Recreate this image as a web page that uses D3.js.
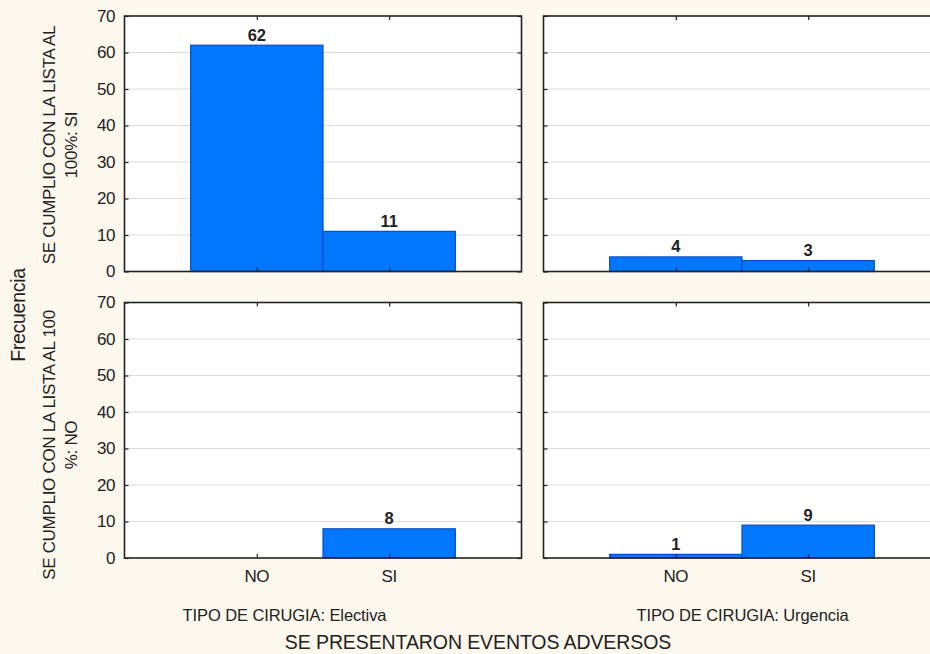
<!DOCTYPE html>
<html>
<head>
<meta charset="utf-8">
<script src="https://cdn.jsdelivr.net/npm/d3@7"></script>
<style>
  body { margin: 0; background: #fdf8ee; }
  svg { display: block; font-family: "Liberation Sans", Arial, sans-serif; }
</style>
</head>
<body>
<div id="chart"></div>
<script>
// Frecuencias por tipo de cirugia y cumplimiento de la lista
const categories = ["NO", "SI"];
const cirugias = ["Electiva", "Urgencia"];
const filas = [
  ["SE CUMPLIO CON LA LISTA AL", "100%: SI"],
  ["SE CUMPLIO CON LA LISTA AL 100", "%: NO"]
];
const yTicks = [0, 10, 20, 30, 40, 50, 60, 70];
// valores[fila][cirugia] = [NO, SI]
const valoresSi = [[62, 11], [4, 3]];
const valoresNo = [[0, 8], [1, 9]];
const valores = [valoresSi, valoresNo];

const W = 930, H = 654;
const svg = d3.select("#chart").append("svg")
  .attr("width", W).attr("height", H);

svg.append("rect").attr("width", W).attr("height", H).attr("fill", "#fdf8ee");

const panelW = 397, panelH = 255.5;
const colX = [124.5, 543.5];
const rowY = [16, 302.5];
const rowLabelY = [145, 445];

const x = d3.scalePoint().domain(categories).range([0, panelW]).padding(1);
const barW = x.step();
const y = d3.scaleLinear().domain([0, 70]).range([panelH, 0]);

filas.forEach((fila, r) => {
  cirugias.forEach((c, ci) => {
    const g = svg.append("g").attr("transform", `translate(${colX[ci]},${rowY[r]})`);

    g.append("rect")
      .attr("width", panelW).attr("height", panelH)
      .attr("fill", "#fff");

    // grid
    g.selectAll(".grid").data(yTicks.slice(1, -1)).join("line")
      .attr("x1", 0).attr("x2", panelW)
      .attr("y1", d => y(d)).attr("y2", d => y(d))
      .attr("stroke", "#dcdcdc").attr("stroke-width", 1.2);

    const data = categories.map((k, i) => ({ k, v: valores[r][ci][i] }));

    g.selectAll(".bar").data(data.filter(d => d.v > 0)).join("rect")
      .attr("x", d => x(d.k) - barW / 2)
      .attr("y", d => y(d.v))
      .attr("width", barW)
      .attr("height", d => panelH - y(d.v))
      .attr("fill", "#0077fc")
      .attr("stroke", "#0a4dc2").attr("stroke-width", 1.2);

    g.selectAll(".lab").data(data.filter(d => d.v > 0)).join("text")
      .attr("x", d => x(d.k))
      .attr("y", d => y(d.v) - 4.5)
      .attr("text-anchor", "middle")
      .attr("font-size", 16.5).attr("font-weight", "bold")
      .attr("fill", "#222")
      .text(d => d.v);

    // axes with inner ticks
    const tickLen = 4;
    g.append("g").call(d3.axisLeft(y).tickValues(yTicks).tickSize(-tickLen).tickFormat(""))
      .call(a => a.select(".domain").remove());
    g.append("g").attr("transform", `translate(${panelW},0)`)
      .call(d3.axisRight(y).tickValues(yTicks).tickSize(-tickLen).tickFormat(""))
      .call(a => a.select(".domain").remove());
    g.append("g").attr("transform", `translate(0,${panelH})`)
      .call(d3.axisBottom(x).tickSize(-tickLen).tickFormat(""))
      .call(a => a.select(".domain").remove());
    g.append("g")
      .call(d3.axisTop(x).tickSize(-tickLen).tickFormat(""))
      .call(a => a.select(".domain").remove());
    g.selectAll(".tick line").attr("stroke", "#222").attr("stroke-width", 1.2);

    g.append("rect")
      .attr("width", panelW).attr("height", panelH)
      .attr("fill", "none").attr("stroke", "#222").attr("stroke-width", 1.6);

    if (ci === 0) {
      g.selectAll(".ylab").data(yTicks).join("text")
        .attr("x", -9.5).attr("y", d => y(d)).attr("dy", "0.34em")
        .attr("text-anchor", "end")
        .attr("font-size", 17).attr("letter-spacing", -0.4).attr("fill", "#222")
        .text(d => d);
    }
    if (r === 1) {
      g.selectAll(".xlab").data(categories).join("text")
        .attr("x", d => x(d)).attr("y", panelH + 23.5)
        .attr("text-anchor", "middle")
        .attr("font-size", 17).attr("letter-spacing", -0.4).attr("fill", "#222")
        .text(d => d);
    }
  });

  // row label
  fila.forEach((line, li) => {
    svg.append("text")
      .attr("transform", `translate(${54.5 + li * 22},${rowLabelY[r]}) rotate(-90)`)
      .attr("text-anchor", "middle")
      .attr("font-size", 17).attr("letter-spacing", -0.3)
      .attr("fill", "#222")
      .text(line);
  });
});

svg.append("text")
  .attr("transform", `translate(25,315) rotate(-90)`)
  .attr("text-anchor", "middle")
  .attr("font-size", 19.5).attr("letter-spacing", -0.3).attr("fill", "#222")
  .text("Frecuencia");

const subX = [284.5, 742.5];
cirugias.forEach((c, ci) => {
  svg.append("text")
    .attr("x", subX[ci]).attr("y", 621)
    .attr("text-anchor", "middle")
    .attr("font-size", 16.5).attr("letter-spacing", -0.1).attr("fill", "#222")
    .text("TIPO DE CIRUGIA: " + c);
});

svg.append("text")
  .attr("x", 478).attr("y", 648.5)
  .attr("text-anchor", "middle")
  .attr("font-size", 19.5).attr("letter-spacing", -0.1).attr("fill", "#222")
  .text("SE PRESENTARON EVENTOS ADVERSOS");
</script>
</body>
</html>
